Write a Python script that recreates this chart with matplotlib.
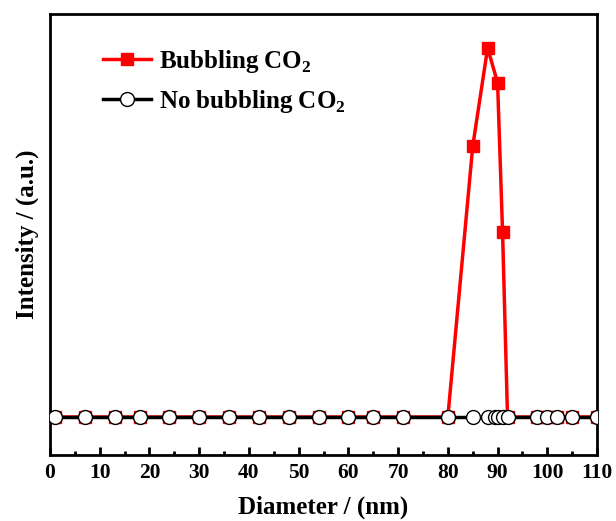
import numpy as np
import matplotlib.pyplot as plt

plt.rcParams['font.family'] = ['Liberation Serif', 'DejaVu Serif']
plt.rcParams['font.weight'] = 'bold'
plt.rcParams['mathtext.fontset'] = 'custom'
plt.rcParams['mathtext.rm'] = 'Liberation Serif:bold'
plt.rcParams['mathtext.bf'] = 'Liberation Serif:bold'

# diameters (nm) measured in both runs
diameter = [1, 7, 13, 18, 24, 30, 36, 42, 48, 54, 60, 65, 71, 80, 85, 88,
            89.5, 90, 91, 92, 98, 100, 102, 105, 110]
# intensity (a.u.) with CO2 bubbling, peak scaled to 100
bubbling = [0, 0, 0, 0, 0, 0, 0, 0, 0, 0, 0, 0, 0, 0, 73.3, 100,
            0, 90.6, 50.2, 0, 0, 0, 0, 0, 0]
bubbling = np.array(bubbling)
bub_mask = np.ones(len(diameter), dtype=bool)
bub_mask[16] = False  # 89.5 point not in the bubbling series
bub_x = np.array(diameter)[bub_mask]
bub_y = bubbling[bub_mask]
# no bubbling: flat
no_bubbling = np.zeros(len(diameter))

fig = plt.figure(figsize=(6.16, 5.21), dpi=100)
ax = fig.add_axes([0.0812, 0.1267, 0.8880, 0.8464])

ax.plot(bub_x, bub_y, color='red', lw=2.5, marker='s', markersize=8.5,
        markerfacecolor='red', markeredgecolor='red', label='Bubbling CO$_2$', zorder=2)
ax.plot(diameter, no_bubbling, color='black', lw=2.5, marker='o', markersize=10,
        markerfacecolor='white', markeredgecolor='black', markeredgewidth=1.0,
        label='No bubbling CO$_2$', zorder=3)

ax.set_xlim(0, 110)
ax.set_ylim(-10.3, 109.2)
ax.set_xticks(np.arange(0, 111, 10))
ax.set_xticks(np.arange(5, 110, 10), minor=True)
ax.set_yticks([])
ax.tick_params(axis='x', which='major', direction='in', length=6, width=2,
               labelsize=15.5, pad=6, top=False)
ax.tick_params(axis='x', which='minor', direction='in', length=3, width=2, top=False)
for lab in ax.get_xticklabels():
    lab.set_fontweight('bold')
for s in ax.spines.values():
    s.set_linewidth(2)

ax.set_xlabel('Diameter / (nm)', fontsize=18, fontweight='bold', labelpad=9)
ax.set_ylabel('Intensity / (a.u.)', fontsize=18, fontweight='bold', labelpad=8)

leg = ax.legend(loc='upper left', bbox_to_anchor=(0.0786, 0.9456), frameon=False,
                fontsize=18, handlelength=1.9, handletextpad=0.32, labelspacing=0.5,
                borderaxespad=0)
for t in leg.get_texts():
    t.set_fontweight('bold')

fig.savefig('out.png', dpi=100)
